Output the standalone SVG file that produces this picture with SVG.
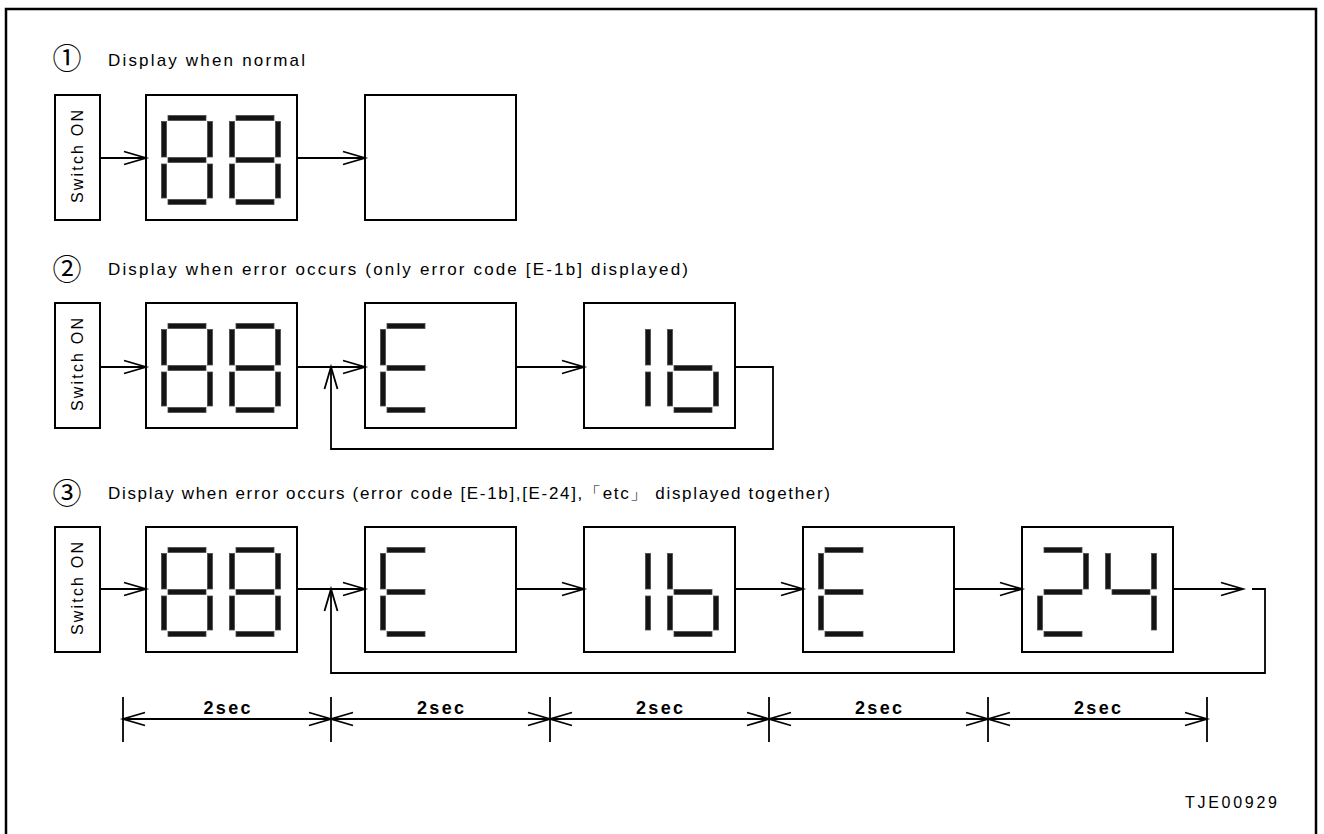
<svg xmlns="http://www.w3.org/2000/svg" xmlns:xlink="http://www.w3.org/1999/xlink" width="1324" height="834" viewBox="0 0 1324 834">
<style>
.box{fill:#fff;stroke:#000;stroke-width:2}
.ln{fill:none;stroke:#000;stroke-width:1.8}
.seg{fill:#141414;stroke:#4a4a4a;stroke-width:0.8}
.title{font-family:"Liberation Sans Narrow","Liberation Sans",sans-serif;font-size:17px;fill:#000}
.circ{font-family:"Noto Sans CJK JP","Noto Sans CJK SC",sans-serif;font-size:29px;fill:#000}
.sw{font-family:"Liberation Sans Narrow","Liberation Sans",sans-serif;font-size:16px;fill:#000}
.dimt{font-family:"Liberation Sans",Arial,sans-serif;font-size:18px;font-weight:bold;fill:#000}
.code{font-family:"Liberation Sans",Arial,sans-serif;font-size:16px;fill:#000}
</style>
<defs>
<marker id="ah" markerUnits="userSpaceOnUse" markerWidth="30" markerHeight="20" viewBox="-25 -10 30 20" refX="0" refY="0" orient="auto-start-reverse">
<path d="M-22,-6.5 L0,0 L-22,6.5" fill="none" stroke="#000" stroke-width="1.8"/>
</marker>
<rect id="sa" x="4" y="-2.5" width="38" height="5"/>
<rect id="sb" x="43.5" y="3.5" width="5" height="35.5"/>
<rect id="sc" x="43.5" y="46" width="5" height="34"/>
<rect id="sd" x="4" y="81.5" width="38" height="5"/>
<rect id="se" x="-2.5" y="46" width="5" height="34"/>
<rect id="sf" x="-2.5" y="3.5" width="5" height="35.5"/>
<rect id="sg" x="4" y="39.5" width="38" height="5"/>
<g id="d8" class="seg"><use href="#sa"/><use href="#sb"/><use href="#sc"/><use href="#sd"/><use href="#se"/><use href="#sf"/><use href="#sg"/></g>
<g id="dE" class="seg"><use href="#sa"/><use href="#sd"/><use href="#se"/><use href="#sf"/><use href="#sg"/></g>
<g id="d1" class="seg"><use href="#sb"/><use href="#sc"/></g>
<g id="db" class="seg"><use href="#sc"/><use href="#sd"/><use href="#se"/><use href="#sf"/><use href="#sg"/></g>
<g id="d2" class="seg"><use href="#sa"/><use href="#sb"/><use href="#sg"/><use href="#se"/><use href="#sd"/></g>
<g id="d4" class="seg"><use href="#sf"/><use href="#sb"/><use href="#sg"/><use href="#sc"/></g>
</defs>

<rect x="6" y="9" width="1310" height="840" fill="#fff" stroke="#000" stroke-width="2.5"/>

<!-- Titles -->
<g id="title1">
<text class="circ" x="67" y="69" text-anchor="middle">①</text>
<text class="title" x="108" y="66" textLength="197" lengthAdjust="spacing">Display when normal</text>
</g>
<g id="title2">
<text class="circ" x="67" y="280" text-anchor="middle">②</text>
<text class="title" x="108" y="275" textLength="580" lengthAdjust="spacing">Display when error occurs (only error code [E-1b] displayed)</text>
</g>
<g id="title3">
<text class="circ" x="67" y="504" text-anchor="middle">③</text>
<text class="title" x="108" y="499" textLength="722" lengthAdjust="spacing">Display when error occurs (error code [E-1b],[E-24],「etc」 displayed together)</text>
</g>

<!-- Row 1 -->
<g id="r1-switch">
<rect class="box" x="55" y="95" width="45" height="125"/>
<text class="sw" transform="translate(83,156.5) rotate(-90)" text-anchor="middle" textLength="93" lengthAdjust="spacing">Switch ON</text>
</g>
<g id="r1-88">
<rect class="box" x="146" y="95" width="151" height="125"/>
<use href="#d8" x="164" y="118"/><use href="#d8" x="232" y="118"/>
</g>
<g id="r1-blank">
<rect class="box" x="365" y="95" width="151" height="125"/>
</g>

<!-- Row 2 -->
<g id="r2-switch">
<rect class="box" x="55" y="303" width="45" height="125"/>
<text class="sw" transform="translate(83,364.5) rotate(-90)" text-anchor="middle" textLength="93" lengthAdjust="spacing">Switch ON</text>
</g>
<g id="r2-88">
<rect class="box" x="146" y="303" width="151" height="125"/>
<use href="#d8" x="164" y="326"/><use href="#d8" x="232" y="326"/>
</g>
<g id="r2-E">
<rect class="box" x="365" y="303" width="151" height="125"/>
<use href="#dE" x="383" y="326"/>
</g>
<g id="r2-1b">
<rect class="box" x="584" y="303" width="151" height="125"/>
<use href="#d1" x="602" y="326"/><use href="#db" x="670" y="326"/>
</g>

<!-- Row 3 -->
<g id="r3-switch">
<rect class="box" x="55" y="527" width="45" height="125"/>
<text class="sw" transform="translate(83,588.5) rotate(-90)" text-anchor="middle" textLength="93" lengthAdjust="spacing">Switch ON</text>
</g>
<g id="r3-88">
<rect class="box" x="146" y="527" width="151" height="125"/>
<use href="#d8" x="164" y="550"/><use href="#d8" x="232" y="550"/>
</g>
<g id="r3-E1">
<rect class="box" x="365" y="527" width="151" height="125"/>
<use href="#dE" x="383" y="550"/>
</g>
<g id="r3-1b">
<rect class="box" x="584" y="527" width="151" height="125"/>
<use href="#d1" x="602" y="550"/><use href="#db" x="670" y="550"/>
</g>
<g id="r3-E2">
<rect class="box" x="803" y="527" width="151" height="125"/>
<use href="#dE" x="821" y="550"/>
</g>
<g id="r3-24">
<rect class="box" x="1022" y="527" width="151" height="125"/>
<use href="#d2" x="1040" y="550"/><use href="#d4" x="1108" y="550"/>
</g>

<!-- Connectors -->
<g id="connectors">
<line class="ln" x1="100" y1="158" x2="146" y2="158" marker-end="url(#ah)"/>
<line class="ln" x1="297" y1="158" x2="365" y2="158" marker-end="url(#ah)"/>

<line class="ln" x1="100" y1="367" x2="146" y2="367" marker-end="url(#ah)"/>
<line class="ln" x1="297" y1="367" x2="365" y2="367" marker-end="url(#ah)"/>
<line class="ln" x1="516" y1="367" x2="584" y2="367" marker-end="url(#ah)"/>
<polyline class="ln" points="735,367 773,367 773,449 331,449 331,367" marker-end="url(#ah)"/>

<line class="ln" x1="100" y1="589" x2="146" y2="589" marker-end="url(#ah)"/>
<line class="ln" x1="297" y1="589" x2="365" y2="589" marker-end="url(#ah)"/>
<line class="ln" x1="516" y1="589" x2="584" y2="589" marker-end="url(#ah)"/>
<line class="ln" x1="735" y1="589" x2="803" y2="589" marker-end="url(#ah)"/>
<line class="ln" x1="954" y1="589" x2="1022" y2="589" marker-end="url(#ah)"/>
<line class="ln" x1="1173" y1="589" x2="1243" y2="589" marker-end="url(#ah)"/>
<polyline class="ln" points="1252,589 1265,589 1265,673 331,673 331,589" marker-end="url(#ah)"/>
</g>

<!-- Timing dimension -->
<g id="timing">
<g class="ln">
<line x1="123" y1="697" x2="123" y2="742"/>
<line x1="331" y1="697" x2="331" y2="742"/>
<line x1="550" y1="697" x2="550" y2="742"/>
<line x1="769" y1="697" x2="769" y2="742"/>
<line x1="988" y1="697" x2="988" y2="742"/>
<line x1="1207" y1="697" x2="1207" y2="742"/>
</g>
<line class="ln" x1="123" y1="719" x2="331" y2="719" marker-start="url(#ah)" marker-end="url(#ah)"/>
<line class="ln" x1="331" y1="719" x2="550" y2="719" marker-start="url(#ah)" marker-end="url(#ah)"/>
<line class="ln" x1="550" y1="719" x2="769" y2="719" marker-start="url(#ah)" marker-end="url(#ah)"/>
<line class="ln" x1="769" y1="719" x2="988" y2="719" marker-start="url(#ah)" marker-end="url(#ah)"/>
<line class="ln" x1="988" y1="719" x2="1207" y2="719" marker-start="url(#ah)" marker-end="url(#ah)"/>
<text class="dimt" x="227" y="714" text-anchor="middle" textLength="47" lengthAdjust="spacing">2sec</text>
<text class="dimt" x="440.5" y="714" text-anchor="middle" textLength="47" lengthAdjust="spacing">2sec</text>
<text class="dimt" x="659.5" y="714" text-anchor="middle" textLength="47" lengthAdjust="spacing">2sec</text>
<text class="dimt" x="878.5" y="714" text-anchor="middle" textLength="47" lengthAdjust="spacing">2sec</text>
<text class="dimt" x="1097.5" y="714" text-anchor="middle" textLength="47" lengthAdjust="spacing">2sec</text>
</g>

<text class="code" x="1185" y="808" textLength="92" lengthAdjust="spacing">TJE00929</text>
</svg>
